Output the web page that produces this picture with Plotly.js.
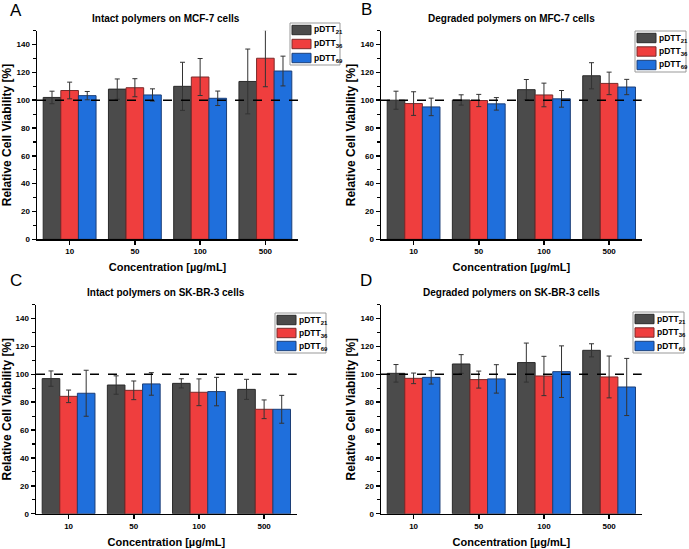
<!DOCTYPE html>
<html>
<head>
<meta charset="utf-8">
<script src="https://cdn.plot.ly/plotly-3.0.1.min.js"></script>
<style>html,body{margin:0;padding:0;background:#fff;}#chart{width:689px;height:549px;}</style>
</head>
<body>
<div id="chart"></div>
<script>
// ---- data ----
const categories = ['10', '50', '100', '500'];
const seriesBase = 'pDTT';
const seriesSubs = ['21', '36', '69'];
const panelTitles = [
  'Intact polymers on MCF-7 cells',
  'Degraded polymers on MFC-7 cells',
  'Intact polymers on SK-BR-3 cells',
  'Degraded polymers on SK-BR-3 cells'
];
const panelLetters = ['A', 'B', 'C', 'D'];
const yTitle = 'Relative Cell Viability [%]';
const xTitle = 'Concentration [µg/mL]';

// Panel A: intact, MCF-7
const A_p21 = [102.0, 108.0, 110.0, 113.5];
const A_p21_err = [4.5, 7.3, 17.3, 23.3];
const A_p36 = [107.0, 109.0, 116.7, 130.2];
const A_p36_err = [6.0, 6.5, 13.3, 20.5];
const A_p69 = [103.3, 103.8, 101.4, 121.0];
const A_p69_err = [3.0, 4.4, 5.2, 10.7];
// Panel B: degraded, MCF-7
const B_p21 = [100.0, 100.2, 107.6, 117.6];
const B_p21_err = [6.5, 3.7, 7.3, 9.4];
const B_p36 = [97.6, 99.8, 103.8, 112.1];
const B_p36_err = [8.5, 4.4, 8.5, 8.1];
const B_p69 = [95.2, 97.4, 101.0, 109.5];
const B_p69_err = [6.3, 4.5, 6.0, 5.5];
// Panel C: intact, SK-BR-3
const C_p21 = [96.9, 92.3, 93.5, 89.2];
const C_p21_err = [5.5, 6.6, 3.3, 7.2];
const C_p36 = [84.2, 88.5, 87.1, 74.9];
const C_p36_err = [4.5, 6.7, 9.6, 6.7];
const C_p69 = [86.4, 93.1, 87.6, 74.9];
const C_p69_err = [16.5, 8.1, 10.2, 10.0];
// Panel D: degraded, SK-BR-3
const D_p21 = [100.7, 107.4, 108.4, 117.2];
const D_p21_err = [6.3, 6.7, 14.0, 4.7];
const D_p36 = [97.1, 96.2, 98.8, 98.1];
const D_p36_err = [3.8, 6.1, 14.1, 15.0];
const D_p69 = [97.8, 96.7, 101.9, 90.9];
const D_p69_err = [4.8, 10.2, 18.5, 20.5];
const referenceLine = 100;

// ---- styling ----
const W = 689, H = 549;
const fills = ['#4b4b4b', '#ef3e3e', '#1f6fdc'];
const outlines = ['#2a2a2a', '#7a2a2a', '#1c3f78'];
const FONT = 'Liberation Sans, Arial, sans-serif';
const seriesLabel = s => '<span style="font-size:8.5px">' + seriesBase + '</span><sub><span style="font-size:6px">' + seriesSubs[s] + '</span></sub>';

const panels = [
  {vals: [A_p21, A_p36, A_p69], errs: [A_p21_err, A_p36_err, A_p69_err],
   xpx: [37, 298], ypx: [30.7, 239.3], legend: {x0: 290, x1: 340, y0: 23, y1: 65}, title: [166, 18], letter: [16, 11]},
  {vals: [B_p21, B_p36, B_p69], errs: [B_p21_err, B_p36_err, B_p69_err],
   xpx: [381, 641.7], ypx: [30.7, 239.3], legend: {x0: 635, x1: 686, y0: 31, y1: 72}, title: [511, 18], letter: [366, 10]},
  {vals: [C_p21, C_p36, C_p69], errs: [C_p21_err, C_p36_err, C_p69_err],
   xpx: [36, 296.7], ypx: [304.6, 513.7], legend: {x0: 275, x1: 326, y0: 313, y1: 353}, title: [166, 292], letter: [16, 280]},
  {vals: [D_p21, D_p36, D_p69], errs: [D_p21_err, D_p36_err, D_p69_err],
   xpx: [381, 641.7], ypx: [304.6, 513.7], legend: {x0: 633, x1: 684, y0: 312, y1: 353}, title: [511, 292], letter: [366, 280]}
];

const traces = [];
const layout = {
  width: W, height: H,
  margin: {l: 0, r: 0, t: 0, b: 0},
  paper_bgcolor: '#fff', plot_bgcolor: '#fff',
  barmode: 'group', bargap: 0.19, bargroupgap: 0,
  font: {family: FONT, color: '#000'},
  showlegend: false,
  shapes: [], annotations: []
};
const px = v => v / W;
const py = v => 1 - v / H;

panels.forEach((p, i) => {
  const n = i === 0 ? '' : String(i + 1);
  const xa = 'x' + n, ya = 'y' + n;
  for (let s = 0; s < 3; s++) {
    traces.push({
      type: 'bar', x: categories, y: p.vals[s], name: seriesBase + seriesSubs[s],
      xaxis: xa, yaxis: ya,
      marker: {color: fills[s], line: {color: outlines[s], width: 1}},
      error_y: {type: 'data', array: p.errs[s], visible: true, color: '#333', thickness: 1, width: 2.5},
      hoverinfo: 'skip'
    });
  }
  layout['xaxis' + n] = {
    domain: [px(p.xpx[0]), px(p.xpx[1])], anchor: ya,
    type: 'category', range: [-0.5, 3.5],
    showline: true, linecolor: '#000', linewidth: 1.5,
    ticks: 'outside', ticklen: 4, tickwidth: 1.5, tickcolor: '#000',
    tickfont: {size: 8, weight: 'bold', family: FONT},
    showgrid: false, zeroline: false,
    title: {text: xTitle, font: {size: 11, weight: 'bold', family: FONT}, standoff: 8}
  };
  layout['yaxis' + n] = {
    domain: [py(p.ypx[1]), py(p.ypx[0])], anchor: xa,
    range: [0, 150], tick0: 0, dtick: 20,
    showline: true, linecolor: '#000', linewidth: 1.5,
    ticks: 'outside', ticklen: 4, tickwidth: 1.5, tickcolor: '#000',
    minor: {dtick: 10, ticks: 'outside', ticklen: 2.5, tickwidth: 1.2, tickcolor: '#000'},
    tickfont: {size: 8, weight: 'bold', family: FONT},
    showgrid: false, zeroline: false,
    title: {text: yTitle, font: {size: 12, weight: 'bold', family: FONT}, standoff: 2}
  };
  layout.shapes.push({
    type: 'line', xref: xa + ' domain', yref: ya,
    x0: 0, x1: 1, y0: referenceLine, y1: referenceLine,
    line: {color: '#000', width: 1.5, dash: 'dash'}
  });
  // legend box (drawn by hand to match the compact original legend)
  const L = p.legend;
  layout.shapes.push({
    type: 'rect', xref: 'paper', yref: 'paper', layer: 'above',
    x0: px(L.x0), x1: px(L.x1), y0: py(L.y1), y1: py(L.y0),
    fillcolor: '#fff', line: {color: '#999', width: 1}
  });
  const step = (L.y1 - L.y0 - 14) / 2;
  for (let s = 0; s < 3; s++) {
    const cy = L.y0 + 7 + s * step;
    layout.shapes.push({
      type: 'rect', xref: 'paper', yref: 'paper', layer: 'above',
      x0: px(L.x0 + 2), x1: px(L.x0 + 21), y0: py(cy + 4.7), y1: py(cy - 4.7),
      fillcolor: fills[s], line: {color: outlines[s], width: 1}
    });
    layout.annotations.push({
      text: seriesLabel(s), xref: 'paper', yref: 'paper',
      x: px(L.x0 + 22), y: py(cy), xanchor: 'left', yanchor: 'middle',
      showarrow: false, font: {size: 8.5, weight: 'bold', family: FONT, color: '#000'}
    });
  }
  layout.annotations.push({
    text: panelTitles[i], xref: 'paper', yref: 'paper',
    x: px(p.title[0]), y: py(p.title[1]), xanchor: 'center', yanchor: 'middle',
    showarrow: false, font: {size: 10, weight: 'bold', family: FONT, color: '#000'}
  });
  layout.annotations.push({
    text: panelLetters[i], xref: 'paper', yref: 'paper',
    x: px(p.letter[0]), y: py(p.letter[1]), xanchor: 'center', yanchor: 'middle',
    showarrow: false, font: {size: 17, family: FONT, color: '#000'}
  });
});

Plotly.newPlot('chart', traces, layout, {staticPlot: true, displayModeBar: false});
</script>
</body>
</html>
